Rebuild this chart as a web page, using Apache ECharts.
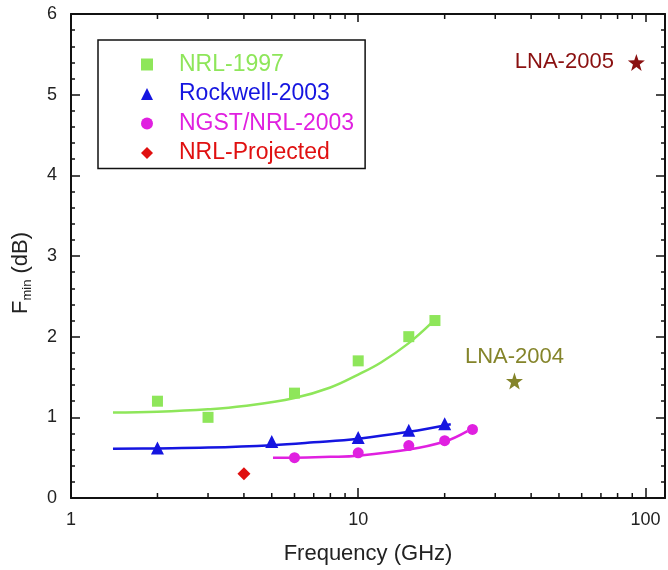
<!DOCTYPE html>
<html><head><meta charset="utf-8">
<script src="https://cdn.jsdelivr.net/npm/echarts@6/dist/echarts.min.js"></script>
<style>html,body{margin:0;padding:0;background:#fff}#c{width:668px;height:570px}</style>
</head><body><div id="c"></div>
<script>
// ---- data ----
const nrl1997X = [2, 3, 6, 10, 15, 18.5];
const nrl1997Y = [1.20, 1.00, 1.30, 1.70, 2.00, 2.20];
const rockwellX = [2, 5, 10, 15, 20];
const rockwellY = [0.62, 0.70, 0.75, 0.84, 0.92];
const ngstX = [6, 10, 15, 20, 25];
const ngstY = [0.50, 0.56, 0.65, 0.71, 0.85];
const projX = [4];
const projY = [0.30];
const lna2004X = [35];
const lna2004Y = [1.45];
const lna2005X = [93];
const lna2005Y = [5.40];
// trend curves as drawn in the figure
const nrl1997FitX = [1.4, 2, 3, 4, 6, 8, 10, 12, 15, 18];
const nrl1997FitY = [1.06, 1.07, 1.10, 1.14, 1.24, 1.37, 1.53, 1.68, 1.92, 2.17];
const rockwellFitX = [1.4, 2, 3, 5, 7, 10, 15, 21];
const rockwellFitY = [0.61, 0.615, 0.625, 0.655, 0.69, 0.735, 0.82, 0.915];
const ngstFitX = [5.05, 6, 8, 10, 15, 20, 24];
const ngstFitY = [0.50, 0.50, 0.51, 0.525, 0.60, 0.70, 0.83];
// axis ticks
const xMinorTicks = [2, 3, 4, 5, 6, 7, 8, 9, 20, 30, 40, 50, 60, 70, 80, 90];
const xMajorLabels = [1, 10, 100];
const seriesNames = ['NRL-1997', 'Rockwell-2003', 'NGST/NRL-2003', 'NRL-Projected'];

const C = {green:'#8ee65a', blue:'#1515e0', mag:'#e020e0', red:'#e01010', lna5:'#8a1010', lna4:'#84842a'};
const FONT = 'Liberation Sans, Arial, sans-serif';
const zip = (xs, ys) => xs.map((x, i) => [x, ys[i]]);
const STAR = 'path://M0,-10 L2.35,-3.24 L9.51,-3.09 L3.8,1.24 L5.88,8.09 L0,4 L-5.88,8.09 L-3.8,1.24 L-9.51,-3.09 L-2.35,-3.24 Z';

const chart = echarts.init(document.getElementById('c'), null, {renderer:'canvas'});

const axisLineStyle = {color:'#111', width:2};
const xCommon = {
  type:'log', logBase:10, min:1, max:117,
  axisLine:{show:true, onZero:false, lineStyle:axisLineStyle},
  splitLine:{show:false},
  minorTick:{show:false}
};
const yCommon = {
  type:'value', min:0, max:6, interval:1,
  axisLine:{show:true, onZero:false, lineStyle:axisLineStyle},
  splitLine:{show:false},
  minorTick:{show:true, splitNumber:5, length:4, lineStyle:{color:'#111', width:1.5}},
  axisTick:{show:true, inside:true, length:9, lineStyle:{color:'#111', width:1.5}}
};

chart.setOption({
  animation:false,
  backgroundColor:'#fff',
  grid:{left:71, top:14, right:0, bottom:69, containLabel:false},
  xAxis:[
    Object.assign({}, xCommon, {
      position:'bottom',
      axisTick:{show:true, inside:true, length:10, lineStyle:{color:'#111', width:1.5}},
      axisLabel:{show:true, margin:13, color:'#222', fontSize:18, fontFamily:FONT,
        formatter: v => xMajorLabels.indexOf(Math.round(v)) >= 0 && Math.abs(v - Math.round(v)) < 1e-6 ? String(Math.round(v)) : ''},
      name:'Frequency (GHz)', nameLocation:'middle', nameGap:45,
      nameTextStyle:{fontSize:22, fontFamily:FONT, color:'#222'}
    }),
    Object.assign({}, xCommon, {
      position:'top',
      axisTick:{show:true, inside:true, length:8, lineStyle:{color:'#111', width:1.5}},
      axisLabel:{show:false}
    })
  ],
  yAxis:[
    Object.assign({}, yCommon, {
      position:'left',
      axisLabel:{show:true, margin:14, color:'#222', fontSize:18, fontFamily:FONT},
      name:'{a|F}{b|min}{a| (dB)}', nameLocation:'middle', nameRotate:90, nameGap:37,
      nameTextStyle:{color:'#222', fontFamily:FONT, padding:[0, 34, 0, 0],
        rich:{a:{fontSize:22, fontFamily:FONT, color:'#222', lineHeight:26},
              b:{fontSize:13, fontFamily:FONT, color:'#222', verticalAlign:'bottom', lineHeight:11}}}
    }),
    Object.assign({}, yCommon, {position:'right', axisLabel:{show:false}})
  ],
  legend:{
    orient:'vertical', left:98, top:40,
    data: seriesNames.map((n, i) => ({name:n, textStyle:{color:[C.green, C.blue, C.mag, C.red][i]}})),
    borderColor:'#111', borderWidth:1.5, borderRadius:0,
    padding:[13, 11, 4, 43],
    itemWidth:12, itemHeight:12, itemGap:6.5,
    textStyle:{fontFamily:FONT, fontSize:23, lineHeight:22, padding:[0, 0, 0, 21]}
  },
  series:[
    {type:'line', name:'fit1997', data:zip(nrl1997FitX, nrl1997FitY), smooth:0.4, showSymbol:false, silent:true,
     lineStyle:{color:C.green, width:2.5}, z:2},
    {type:'line', name:'fitRock', data:zip(rockwellFitX, rockwellFitY), smooth:0.4, showSymbol:false, silent:true,
     lineStyle:{color:C.blue, width:2.5}, z:2},
    {type:'line', name:'fitNgst', data:zip(ngstFitX, ngstFitY), smooth:0.4, showSymbol:false, silent:true,
     lineStyle:{color:C.mag, width:2.5}, z:2},
    {type:'scatter', name:'NRL-1997', data:zip(nrl1997X, nrl1997Y), symbol:'rect', symbolSize:11,
     itemStyle:{color:C.green, opacity:1}, z:3},
    {type:'scatter', name:'Rockwell-2003', data:zip(rockwellX, rockwellY), symbol:'triangle', symbolSize:13,
     itemStyle:{color:C.blue, opacity:1}, z:3},
    {type:'scatter', name:'NGST/NRL-2003', data:zip(ngstX, ngstY), symbol:'circle', symbolSize:11,
     itemStyle:{color:C.mag, opacity:1}, z:3},
    {type:'scatter', name:'NRL-Projected', data:zip(projX, projY), symbol:'diamond', symbolSize:13,
     itemStyle:{color:C.red, opacity:1}, z:3},
    {type:'scatter', name:'LNA-2004', data:zip(lna2004X, lna2004Y), symbol:STAR,
     symbolSize:17, itemStyle:{color:C.lna4, opacity:1}, z:3,
     label:{show:true, position:'top', distance:5, formatter:'LNA-2004', color:C.lna4, fontSize:22, fontFamily:FONT}},
    {type:'scatter', name:'LNA-2005', data:zip(lna2005X, lna2005Y), symbol:STAR,
     symbolSize:17, itemStyle:{color:C.lna5, opacity:1}, z:3,
     label:{show:true, position:'left', distance:14, formatter:'LNA-2005', color:C.lna5, fontSize:22, fontFamily:FONT}},
    {type:'custom', name:'xMinor', silent:true, clip:false, z:4,
     data: xMinorTicks.map(v => [v, 0]),
     renderItem:function(params, api){
       const x = api.coord([api.value(0), 0])[0];
       const cs = params.coordSys;
       const b = cs.y + cs.height, t = cs.y;
       return {type:'group', children:[
         {type:'line', shape:{x1:x, y1:b, x2:x, y2:b - 5}, style:{stroke:'#111', lineWidth:1.5}},
         {type:'line', shape:{x1:x, y1:t, x2:x, y2:t + 5}, style:{stroke:'#111', lineWidth:1.5}}
       ]};
     }}
  ]
});
</script></body></html>
